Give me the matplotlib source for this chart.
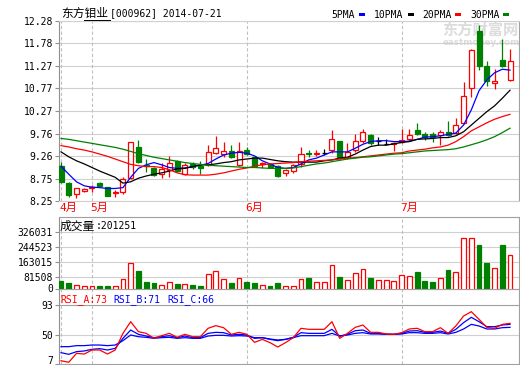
import matplotlib
matplotlib.use('Agg')
import matplotlib.pyplot as plt
from matplotlib.lines import Line2D
from matplotlib.patches import Rectangle
from matplotlib.transforms import blended_transform_factory, ScaledTranslation
import numpy as np

MONO = 'DejaVu Sans Mono'
CJK = 'Noto Sans CJK SC'
plt.rcParams['font.family'] = [MONO, CJK]

# ---- data (000962, 2014-04-25 .. 2014-07-21) ----
month_idx = [0, 4, 24, 44]
month_labels = ['4月', '5月', '6月', '7月']

open_ = [9.03, 8.65, 8.40, 8.48, 8.54, 8.65, 8.56, 8.43, 8.45, 8.76,
         9.47, 9.06, 8.99, 8.86, 8.94, 9.15, 8.85, 9.07, 9.03, 9.05,
         9.32, 9.31, 9.36, 9.06, 9.40, 9.23, 9.07, 9.08, 9.03, 8.87,
         8.93, 9.08, 9.32, 9.31, 9.32, 9.39, 9.59, 9.23, 9.39, 9.60,
         9.73, 9.60, 9.53, 9.53, 9.57, 9.64, 9.84, 9.76, 9.76, 9.72,
         9.79, 9.77, 10.00, 10.79, 12.06, 11.27, 10.90, 11.41, 10.97]
close = [8.68, 8.38, 8.53, 8.51, 8.56, 8.59, 8.37, 8.45, 8.74, 9.58,
         9.13, 9.03, 8.84, 8.97, 9.09, 8.93, 9.05, 9.01, 9.00, 9.35,
         9.43, 9.37, 9.24, 9.37, 9.30, 9.03, 9.09, 9.02, 8.81, 8.94,
         9.05, 9.30, 9.31, 9.33, 9.32, 9.63, 9.22, 9.34, 9.60, 9.79,
         9.55, 9.60, 9.53, 9.55, 9.62, 9.73, 9.74, 9.69, 9.69, 9.79,
         9.72, 9.95, 10.60, 11.63, 11.28, 10.94, 10.93, 11.28, 11.38]
high = [9.13, 8.68, 8.53, 8.55, 8.60, 8.68, 8.57, 8.49, 8.78, 9.58,
        9.62, 9.19, 9.02, 9.10, 9.26, 9.17, 9.10, 9.12, 9.15, 9.50,
        9.70, 9.56, 9.50, 9.56, 9.45, 9.26, 9.13, 9.10, 9.06, 8.96,
        9.08, 9.47, 9.40, 9.40, 9.42, 9.84, 9.59, 9.54, 9.76, 9.87,
        9.75, 9.69, 9.64, 9.56, 9.86, 9.86, 9.99, 9.79, 9.80, 9.83,
        10.03, 10.10, 10.92, 11.66, 12.20, 11.38, 11.21, 11.87, 11.65]
low = [8.66, 8.35, 8.32, 8.46, 8.46, 8.57, 8.36, 8.33, 8.40, 8.74,
       9.10, 8.90, 8.80, 8.77, 8.78, 8.90, 8.84, 8.96, 8.85, 9.03,
       9.30, 9.24, 9.22, 9.04, 9.28, 9.02, 8.98, 9.00, 8.78, 8.80,
       8.88, 9.02, 9.24, 9.26, 9.27, 9.32, 9.20, 9.20, 9.35, 9.55,
       9.50, 9.50, 9.50, 9.36, 9.55, 9.59, 9.72, 9.62, 9.57, 9.50,
       9.70, 9.75, 9.97, 10.58, 11.18, 10.82, 10.75, 11.25, 10.94]

ma5 = [9.03, 8.85, 8.68, 8.59, 8.56, 8.55, 8.53, 8.53, 8.55, 8.78,
       8.98, 9.06, 9.11, 9.06, 9.00, 8.98, 8.99, 9.02, 9.05, 9.09,
       9.19, 9.28, 9.32, 9.34, 9.32, 9.26, 9.15, 9.08, 9.00, 8.98,
       9.00, 9.08, 9.17, 9.21, 9.28, 9.35, 9.35, 9.35, 9.43, 9.52,
       9.58, 9.60, 9.60, 9.58, 9.58, 9.59, 9.63, 9.68, 9.69, 9.71,
       9.74, 9.77, 9.95, 10.29, 10.72, 10.96, 11.12, 11.20, 11.18]
ma10 = [9.35, 9.24, 9.15, 9.08, 9.00, 8.92, 8.85, 8.78, 8.65, 8.68,
        8.76, 8.81, 8.85, 8.88, 8.92, 8.97, 8.98, 9.02, 9.06, 9.06,
        9.08, 9.11, 9.13, 9.17, 9.19, 9.21, 9.21, 9.18, 9.15, 9.13,
        9.12, 9.12, 9.12, 9.12, 9.15, 9.17, 9.21, 9.23, 9.30, 9.39,
        9.47, 9.50, 9.50, 9.53, 9.56, 9.58, 9.63, 9.64, 9.65, 9.67,
        9.67, 9.71, 9.80, 9.95, 10.10, 10.25, 10.38, 10.55, 10.73]
ma20 = [9.49, 9.46, 9.42, 9.39, 9.35, 9.30, 9.25, 9.19, 9.13, 9.07,
        9.04, 9.02, 9.02, 9.00, 8.95, 8.88, 8.84, 8.83, 8.83, 8.83,
        8.85, 8.88, 8.92, 8.96, 8.99, 9.03, 9.06, 9.08, 9.09, 9.10,
        9.11, 9.13, 9.14, 9.15, 9.16, 9.17, 9.19, 9.21, 9.22, 9.24,
        9.26, 9.28, 9.30, 9.32, 9.33, 9.37, 9.39, 9.41, 9.44, 9.46,
        9.50, 9.58, 9.69, 9.82, 9.91, 10.00, 10.08, 10.14, 10.19]
ma30 = [9.65, 9.63, 9.60, 9.57, 9.54, 9.51, 9.48, 9.45, 9.41, 9.36,
        9.31, 9.27, 9.23, 9.20, 9.17, 9.14, 9.11, 9.09, 9.07, 9.05,
        9.04, 9.03, 9.02, 9.01, 9.00, 9.00, 8.99, 8.98, 8.98, 8.98,
        8.99, 9.02, 9.05, 9.08, 9.10, 9.13, 9.16, 9.19, 9.21, 9.23,
        9.24, 9.26, 9.28, 9.30, 9.31, 9.33, 9.35, 9.37, 9.38, 9.39,
        9.40, 9.42, 9.46, 9.51, 9.56, 9.62, 9.69, 9.78, 9.88]

volume = [59800, 48900, 34800, 29300, 29300, 31000, 31000, 29300, 67400, 154300,
          112500, 54300, 47300, 34800, 51000, 41800, 41800, 36400, 31000, 94500,
          114100, 70600, 47300, 76100, 54300, 48900, 38000, 29300, 45600, 32600,
          32600, 70600, 72800, 51000, 51000, 143400, 78200, 62000, 100000, 121700,
          72800, 62000, 62000, 56500, 89100, 83700, 107000, 58100, 52700, 72800,
          117900, 107000, 290200, 290200, 255400, 157600, 127200, 255400, 201251]

rsi_a = [11.8, 9.5, 22.6, 21.6, 27.5, 27.5, 21.6, 27.5, 51.9, 69.0,
         54.4, 51.9, 44.6, 48.5, 51.9, 46.1, 50.5, 47.0, 47.0, 59.3,
         63.2, 60.2, 50.5, 53.4, 50.5, 38.7, 43.1, 38.3, 31.9, 38.3,
         45.6, 59.3, 57.8, 57.8, 57.8, 69.0, 44.6, 51.9, 60.7, 64.1,
         53.4, 53.4, 51.0, 50.5, 52.9, 58.3, 59.3, 54.4, 54.4, 60.2,
         51.9, 62.7, 77.3, 83.7, 72.4, 60.7, 59.3, 65.1, 66.6]
rsi_b = [23.6, 21.2, 25.1, 26.1, 28.5, 29.5, 27.5, 30.0, 44.6, 56.8,
         50.5, 48.0, 45.6, 47.0, 48.5, 45.6, 48.0, 45.6, 45.6, 51.9,
         53.4, 52.9, 49.5, 50.5, 49.5, 44.6, 45.6, 43.1, 41.2, 43.1,
         46.1, 52.9, 51.9, 51.9, 51.9, 57.8, 48.0, 50.5, 55.8, 56.8,
         51.9, 51.9, 50.5, 50.5, 51.9, 55.3, 55.8, 53.4, 53.4, 55.3,
         51.9, 57.8, 67.6, 75.4, 69.0, 61.7, 61.7, 64.1, 65.1]
rsi_c = [32.4, 32.4, 33.9, 33.9, 34.8, 34.8, 33.9, 34.8, 41.2, 49.5,
         47.0, 46.1, 44.6, 45.6, 46.1, 44.6, 45.6, 44.6, 44.6, 48.0,
         49.0, 49.0, 48.0, 48.5, 48.0, 45.6, 45.6, 43.6, 42.2, 43.1,
         45.6, 48.5, 48.5, 48.5, 48.5, 51.9, 48.0, 49.5, 51.9, 52.9,
         51.0, 51.0, 50.5, 50.5, 51.0, 52.9, 52.9, 51.9, 51.9, 52.9,
         51.0, 53.4, 58.3, 65.1, 62.7, 58.3, 58.3, 60.2, 60.7]

price_ticks = ['8.25', '8.75', '9.26', '9.76', '10.27', '10.77', '11.27', '11.78', '12.28']
vol_ticks = [81508, 163015, 244523, 326031]
rsi_ticks = [7, 50, 93]
rsi_labels = ['RSI_A:73', 'RSI_B:71', 'RSI_C:66']

# ---- layout helpers (pixel positions on the 520x365 canvas) ----
W, H = 520, 365


def fx(x):
    return x / W


def fy(y):
    return 1 - y / H


def box(x0, y0, x1, y1):
    return [x0 / W, 1 - y1 / H, (x1 - x0) / W, (y1 - y0) / H]


RED, GREEN, BLUE = '#ff0000', '#008000', '#0000ff'
GRID = '#d0d0d0'
EDGE = '#a0a0a0'

fig = plt.figure(figsize=(5.2, 3.65), dpi=100)
ax1 = fig.add_axes(box(59, 21, 519, 201))
ax2 = fig.add_axes(box(59, 217, 519, 289))
ax3 = fig.add_axes(box(59, 289, 519, 364))

o = np.array(open_)
c = np.array(close)
x = np.arange(len(c))
up = c > o
flat = c == o
edge_cols = np.where(flat, 'black', np.where(up, RED, GREEN))
face_cols = np.where(flat | up, 'white', GREEN)
vol_up = c >= o
vol_edge = np.where(vol_up, RED, GREEN)
vol_face = np.where(vol_up, 'white', GREEN)

for ax in (ax1, ax2, ax3):
    ax.set_xlim(-0.26, 59.16)
    ax.set_xticks([])
    ax.patch.set_visible(False)
    for s in ax.spines.values():
        s.set_color(EDGE)
        s.set_linewidth(0.8)
    ax.spines['left'].set_color('#909090')
    ax.tick_params(axis='y', length=3, width=0.8, color='#909090', pad=1.5,
                   labelsize=7, labelcolor='black')
    for m in month_idx:
        ax.axvline(m, color='#c0c0c0', lw=0.8, ls=(0, (3, 2)), zorder=1)

# ---- price panel ----
ax1.set_ylim(8.25, 12.28)
ax1.set_yticks([float(t) for t in price_ticks], price_ticks)
ax1.yaxis.grid(True, color=GRID, lw=0.8)
ax1.set_axisbelow(True)
ax1.spines['top'].set_color(GRID)
ax1.spines['bottom'].set_color(GRID)

ax1.vlines(x, low, high, colors=edge_cols, lw=0.9, zorder=2)
ax1.bar(x, c - o, bottom=o, width=0.65, color=face_cols, edgecolor=edge_cols,
        lw=0.9, zorder=3)
ax1.plot(x, ma5, color=BLUE, lw=0.9, zorder=4)
ax1.plot(x, ma10, color='black', lw=0.9, zorder=4)
ax1.plot(x, ma20, color=RED, lw=0.9, zorder=4)
ax1.plot(x, ma30, color=GREEN, lw=0.9, zorder=4)

tr = blended_transform_factory(ax1.transData, ax1.transAxes)
for m, lab in zip(month_idx, month_labels):
    ax1.text(m - 0.2, -0.04, lab, transform=tr, color=RED, fontsize=8,
             ha='left', va='center')

# ---- volume panel ----
ax2.set_ylim(14670, 405900)
ax2.set_yticks([14670] + vol_ticks, ['0'] + [str(v) for v in vol_ticks])
zero_lab = ax2.get_yticklabels()[0]
zero_lab.set_va('baseline')
zero_lab.set_transform(zero_lab.get_transform()
                       + ScaledTranslation(0, -2.5 / 100, fig.dpi_scale_trans))
for v in vol_ticks:
    ax2.axhline(v, color=GRID, lw=0.8, zorder=0)
ax2.bar(x, volume, width=0.62, color=vol_face, edgecolor=vol_edge, lw=0.9, zorder=3)

# ---- RSI panel ----
ax3.set_ylim(7, 116.9)
ax3.set_yticks(rsi_ticks, [str(t) for t in rsi_ticks])
ax3.get_yticklabels()[0].set_va('baseline')
ax3.axhline(50, color=GRID, lw=0.8, zorder=0)
ax3.axhline(93, color=EDGE, lw=0.8, zorder=0)
ax3.plot(x, rsi_c, color=BLUE, lw=0.9, zorder=3)
ax3.plot(x, rsi_b, color=BLUE, lw=0.9, zorder=3)
ax3.plot(x, rsi_a, color=RED, lw=0.9, zorder=4)

# ---- header texts ----
fig.text(fx(61), fy(13), '东方钼业', family=CJK, fontsize=8.5, va='center')
fig.add_artist(Line2D([fx(84), fx(110)], [fy(19.5), fy(19.5)], color='black', lw=0.7))
fig.text(fx(110), fy(13), '[000962] 2014-07-21', fontsize=7, va='center')

legend = [('5PMA', 331.5, 359, BLUE), ('10PMA', 374, 408, 'black'),
          ('20PMA', 422, 455, RED), ('30PMA', 470, 503, GREEN)]
for name, tx, dx, col in legend:
    fig.text(fx(tx), fy(14.5), name, fontsize=7, va='center')
    fig.add_artist(Rectangle((fx(dx), fy(16)), 6 / W, 3 / H, transform=fig.transFigure,
                             color=col, lw=0))

fig.text(fx(60), fy(226), '成交量', family=CJK, fontsize=8.5, va='center')
fig.text(fx(95.5), fy(226), ':%d' % volume[-1], fontsize=7, va='center')

for lab, tx, col in zip(rsi_labels, [60, 113, 167], [RED, BLUE, BLUE]):
    fig.text(fx(tx), fy(299.5), lab, fontsize=7, color=col, va='center')

# watermark
fig.text(fx(442), fy(30), '东方财富网', family=CJK, fontsize=11, fontweight='bold',
         color='#dcdcdc', va='center', zorder=-1)
fig.text(fx(443), fy(42.5), 'eastmoney.com', family='DejaVu Sans', fontsize=6.3,
         fontweight='bold', color='#dcdcdc', va='center', zorder=-1)

fig.savefig('out.png', dpi=100)
